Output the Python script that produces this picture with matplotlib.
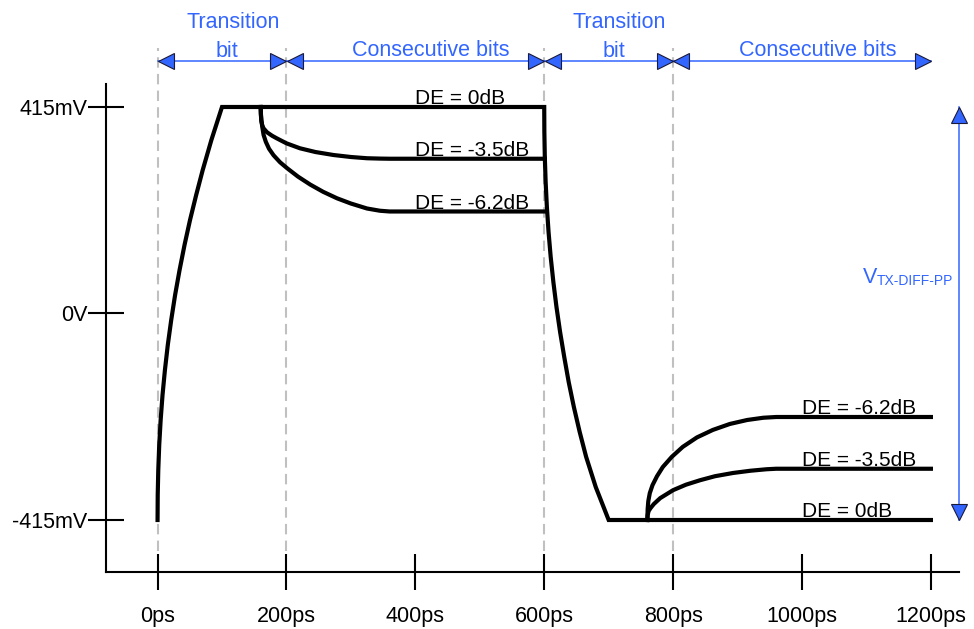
import matplotlib
matplotlib.use('Agg')
import matplotlib.pyplot as plt
from matplotlib.transforms import offset_copy

plt.rcParams['font.family'] = ['Liberation Sans', 'DejaVu Sans']

# axis ticks: time in ps, voltage in mV
x_ticks = [0, 200, 400, 600, 800, 1000, 1200]
x_tick_labels = ['0ps', '200ps', '400ps', '600ps', '800ps', '1000ps', '1200ps']
y_ticks = [-415, 0, 415]
y_tick_labels = ['-415mV', '0V', '415mV']

# bit boundaries and what each span is called
bit_edges = [0, 200, 600, 800, 1200]
span_names = [['Transition', 'bit'], ['Consecutive bits'],
              ['Transition', 'bit'], ['Consecutive bits']]

# 0dB waveform
rise_t = [0, 0.25, 1.1, 2.6, 4.8, 7.7, 11.4, 15.9, 21.2, 27.2, 34.1, 41.9,
          50.4, 59.9, 70, 83.6, 100]
rise_v = [-415, -365, -315, -264, -214, -164, -114, -63, -13, 37, 87, 138,
          188, 238, 288, 349, 415]
fall_t = [600, 600.2, 600.9, 602.2, 604.1, 606.7, 610, 614.2, 619, 624.6, 631,
          638, 646, 655, 665, 680, 700]
fall_v = [415, 365, 315, 264, 214, 164, 114, 63, 13, -37, -87,
          -138, -188, -238, -288, -349, -415]
end_t = 1200

# de-emphasis levels and curves
de_names = ['DE = 0dB', 'DE = -3.5dB', 'DE = -6.2dB']
top_levels = [415, 311, 205]
bot_levels = [-415, -312, -208]
top_35_t = [160, 160.3, 161, 162.5, 164.5, 170, 178, 185, 200, 221, 245, 273,
            300, 325, 345, 360, 601]
top_35_v = [415, 400, 387, 378, 372, 364, 357, 352, 342, 332, 324.5, 318.5,
            314.5, 312, 311.3, 311, 311]
top_62_t = [160, 160.3, 161, 162.5, 164.5, 168, 173, 180, 190, 201, 218, 237,
            257, 278.5, 300, 325, 345, 360, 603]
top_62_v = [415, 403, 390, 375, 359, 345, 331, 318, 304, 292, 275, 259,
            244.5, 231.5, 221, 211, 206.5, 205, 205]
bot_35_t = [760, 760.5, 762, 765, 770, 780, 800, 820, 842, 865, 893, 920,
            945, 960, 1200]
bot_35_v = [-415, -405, -397, -391, -383, -371, -355, -344, -335, -327, -320.5,
            -316, -313, -312, -312]
bot_62_t = [760, 760.5, 761.5, 763.8, 768, 775, 784, 798, 815, 837, 861.6, 888,
            915, 940, 960, 1200]
bot_62_v = [-415, -393, -377, -361, -345, -327, -308.5, -288, -268, -249, -234,
            -222, -214, -209.5, -208, -208]

blue = '#3366ff'
head_edge = '#1a1a3a'

fig = plt.figure(figsize=(9.74, 6.29), dpi=100)
ax = fig.add_axes([106 / 974, 57 / 629, 853 / 974, 488 / 629])
ax.set_xlim(-80, 1243.6)
ax.set_ylim(-519.5, 461.2)

for s in ['top', 'right']:
    ax.spines[s].set_visible(False)
for s in ['left', 'bottom']:
    ax.spines[s].set_linewidth(1.5)

ax.set_xticks(x_ticks)
ax.set_xticklabels(x_tick_labels)
ax.set_yticks(y_ticks)
ax.set_yticklabels(y_tick_labels)
ax.tick_params(axis='both', direction='inout', length=26.6, width=1.5, labelsize=15.5)
ax.tick_params(axis='x', pad=11)
ax.tick_params(axis='y', pad=0)

# dashed guides at bit boundaries
for t in bit_edges[:-1]:
    ax.plot([t, t], [-478, 534], color='#c0c0c0', lw=1.5, ls=(0, (5, 3)),
            clip_on=False, zorder=1)

# main 0dB waveform
main_t = rise_t + fall_t + [end_t]
main_v = rise_v + fall_v + [fall_v[-1]]
ax.plot(main_t, main_v, color='black', lw=3, solid_joinstyle='miter', zorder=3)
for t, v in [(top_35_t, top_35_v), (top_62_t, top_62_v),
             (bot_35_t, bot_35_v), (bot_62_t, bot_62_v)]:
    ax.plot(t, v, color='black', lw=3, solid_joinstyle='miter', zorder=3)

for name, lv in zip(de_names, top_levels):
    ax.text(400, lv + 6, name, fontsize=15, ha='left', va='baseline')
for name, lv in zip(de_names, bot_levels):
    ax.text(1000, lv + 6, name, fontsize=15, ha='left', va='baseline')

# arrowhead helpers
ms = 12
right_tip = offset_copy(ax.transData, fig, x=-ms / 2, y=0, units='points')
left_tip = offset_copy(ax.transData, fig, x=ms / 2, y=0, units='points')
up_tip = offset_copy(ax.transData, fig, x=0, y=-ms / 2, units='points')
down_tip = offset_copy(ax.transData, fig, x=0, y=ms / 2, units='points')
head_kw = dict(ms=ms, mfc=blue, mec=head_edge, mew=0.8, ls='none',
               clip_on=False, zorder=5)

arrow_v = 507
for a, b, names in zip(bit_edges[:-1], bit_edges[1:], span_names):
    ax.plot([a, b], [arrow_v, arrow_v], color=blue, lw=1.1, clip_on=False, zorder=4)
    ax.plot([a], [arrow_v], marker='<', transform=left_tip, **head_kw)
    ax.plot([b], [arrow_v], marker='>', transform=right_tip, **head_kw)
    mid = (a + b) / 2
    if len(names) == 2:
        ax.text(mid + 17, 573, names[0], fontsize=15.5, color=blue,
                ha='center', va='baseline', clip_on=False)
        ax.text(mid + 8, 516, names[1], fontsize=15.5, color=blue,
                ha='center', va='baseline', clip_on=False)
    else:
        ax.text(mid + 24, 517, names[0], fontsize=15.5, color=blue,
                ha='center', va='baseline', clip_on=False)

# swing arrow on the right
vt_x = 1243
ax.plot([vt_x, vt_x], [y_ticks[0], y_ticks[-1]], color=blue, lw=1.1,
        clip_on=False, zorder=4)
ax.plot([vt_x], [y_ticks[-1]], marker='^', transform=up_tip, **head_kw)
ax.plot([vt_x], [y_ticks[0]], marker='v', transform=down_tip, **head_kw)
vtext = ax.text(1094, 61, 'V', fontsize=15.5, color=blue, ha='left', va='baseline')
ax.annotate('TX-DIFF-PP', xy=(1, 0), xycoords=vtext, fontsize=10, color=blue,
            ha='left', va='bottom')

fig.savefig('out.png', dpi=100)
